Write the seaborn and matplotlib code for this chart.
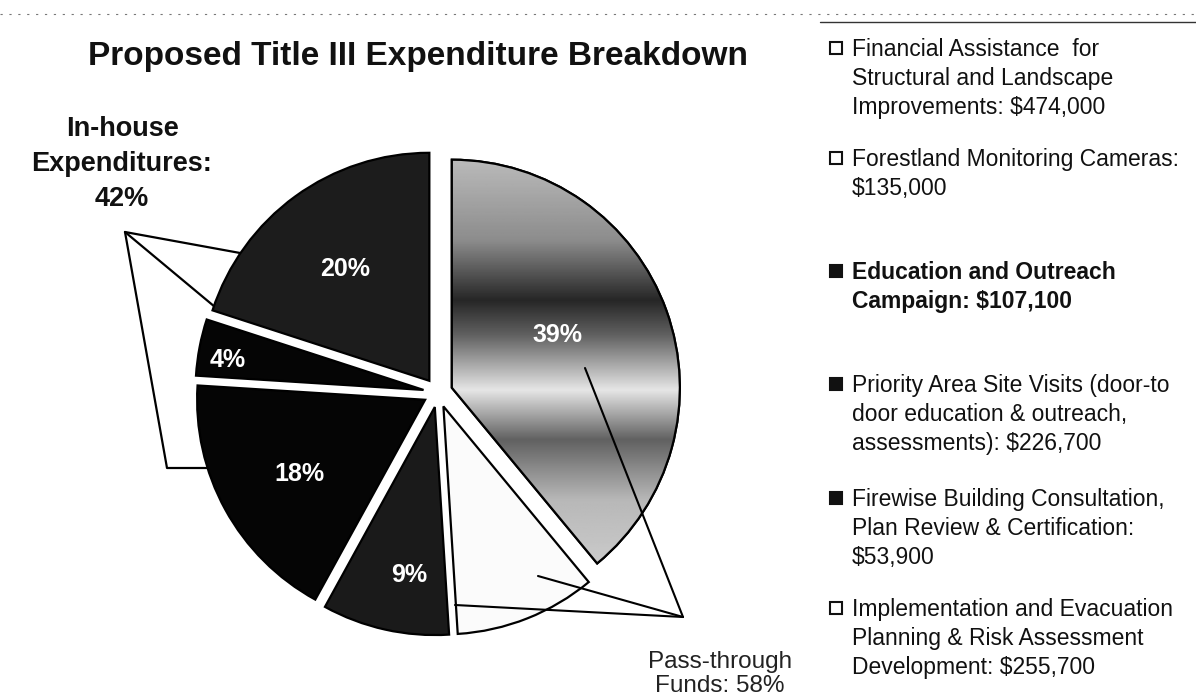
import matplotlib
matplotlib.use("Agg")
import matplotlib.pyplot as plt
from matplotlib.patches import Wedge
import seaborn as sns
import numpy as np

# ---------------- data ----------------
slice_values = [39, 10, 9, 18, 4, 20]
slice_labels = ["39%", "", "9%", "18%", "4%", "20%"]
slice_colors = ["#9c9c9c", "#fbfbfb", "#1a1a1a", "#050505", "#050505", "#1c1c1c"]

legend_items = [
    "Financial Assistance  for\nStructural and Landscape\nImprovements: $474,000",
    "Forestland Monitoring Cameras:\n$135,000",
    "Education and Outreach\nCampaign: $107,100",
    "Priority Area Site Visits (door-to\ndoor education & outreach,\nassessments): $226,700",
    "Firewise Building Consultation,\nPlan Review & Certification:\n$53,900",
    "Implementation and Evacuation\nPlanning & Risk Assessment\nDevelopment: $255,700",
]
legend_filled = [False, False, True, True, True, False]
legend_bold = [False, False, True, False, False, False]

title = "Proposed Title III Expenditure Breakdown"
inhouse_text = "In-house\nExpenditures:\n42%"
pass_text = "Pass-through\nFunds: 58%"

# ---------------- style ----------------
sns.set_theme(style="white")
plt.rcParams["font.family"] = ["Liberation Sans", "DejaVu Sans"]

W, H = 1196, 696
fig = plt.figure(figsize=(W / 100, H / 100), dpi=100)
ax = fig.add_axes([0, 0, 1, 1])


def P(x, y):
    """pixel (top-left origin) -> data coords"""
    return x, H - y


cx, cy = P(438, 392.7)
R = 228
expl = 14.7

wedges, _ = ax.pie(
    slice_values,
    explode=[expl] * len(slice_values),
    startangle=90,
    counterclock=False,
    radius=R,
    center=(cx, cy),
    colors=slice_colors,
    wedgeprops=dict(edgecolor="black", linewidth=1.6, zorder=3),
)

# banded grey shading inside the light 39% wedge (scan texture)
band_y = [150, 240, 300, 335, 390, 440, 500, 570]
band_v = [0.75, 0.55, 0.15, 0.38, 0.90, 0.38, 0.72, 0.80]
yy = np.linspace(150, 570, 300)
shade = np.interp(yy, band_y, band_v)[:, None] * np.ones((1, 10))
im = ax.imshow(shade, cmap="gray", vmin=0, vmax=1, aspect="auto",
               extent=(440, 700, H - 570, H - 150), zorder=3.5, interpolation="bilinear")
im.set_clip_path(wedges[0])
w0 = wedges[0]
ax.add_patch(Wedge(w0.center, w0.r, w0.theta1, w0.theta2, facecolor="none",
                   edgecolor="black", linewidth=1.6, zorder=3.6))

# percentage labels inside slices
label_frac = [0.52, 0.0, 0.745, 0.64, 0.87, 0.614]
label_shift = [6.8, 0.0, 4.0, 2.0, 2.0, 1.0]
for w, lab, f, s in zip(wedges, slice_labels, label_frac, label_shift):
    if not lab:
        continue
    th = np.deg2rad(0.5 * (w.theta1 + w.theta2) + s)
    x0, y0 = w.center
    ax.text(x0 + f * w.r * np.cos(th), y0 + f * w.r * np.sin(th), lab,
            color="white", fontsize=18, fontweight="bold",
            ha="center", va="center", zorder=6)

# In-house callout (drawn behind the pie)
apex = P(125, 232)
for end in [P(262, 257), P(215, 307)]:
    ax.plot([apex[0], end[0]], [apex[1], end[1]], color="black", lw=1.6, zorder=1)
pts = [apex, P(167, 468), P(222, 468)]
ax.plot([p[0] for p in pts], [p[1] for p in pts], color="black", lw=1.6, zorder=1)

# Pass-through callout (drawn on top)
apex2 = P(683, 617)
for start in [P(585, 368), P(538, 576), P(455, 605)]:
    ax.plot([start[0], apex2[0]], [start[1], apex2[1]], color="black", lw=1.5, zorder=5)

# texts
ax.text(*P(418, 56), title, fontsize=24, fontweight="bold", ha="center", va="center", color="#111111")
ax.text(*P(122, 164), inhouse_text, fontsize=19.5, fontweight="bold", ha="center", va="center",
        linespacing=1.45, color="#111111")
ax.text(*P(720, 674), pass_text, fontsize=17.5, ha="center", va="center", linespacing=1.15,
        color="#222222")

# legend
legend_centers = [47, 157, 270, 383, 497, 607]
for txt, filled, bold, c in zip(legend_items, legend_filled, legend_bold, legend_centers):
    ax.text(*P(852, c - 9), txt, fontsize=16.5, fontweight="bold" if bold else "normal",
            ha="left", va="top", linespacing=1.33, color="#111111")
    ax.plot(*P(836, c + 1), marker="s", markersize=8,
            markerfacecolor="#111111" if filled else "white",
            markeredgecolor="#111111", markeredgewidth=1.5, zorder=6)

# scan frame lines
ax.plot([P(0, 14)[0], P(1196, 14)[0]], [P(0, 14)[1]] * 2, color="#777777", lw=0.8, ls=(0, (2, 6)))
ax.plot([P(820, 22)[0], P(1196, 22)[0]], [P(0, 22)[1]] * 2, color="#333333", lw=1.0)

ax.set_xlim(0, W)
ax.set_ylim(0, H)
ax.set_aspect("auto")
ax.axis("off")

fig.savefig("out.png", dpi=100, facecolor="white")
